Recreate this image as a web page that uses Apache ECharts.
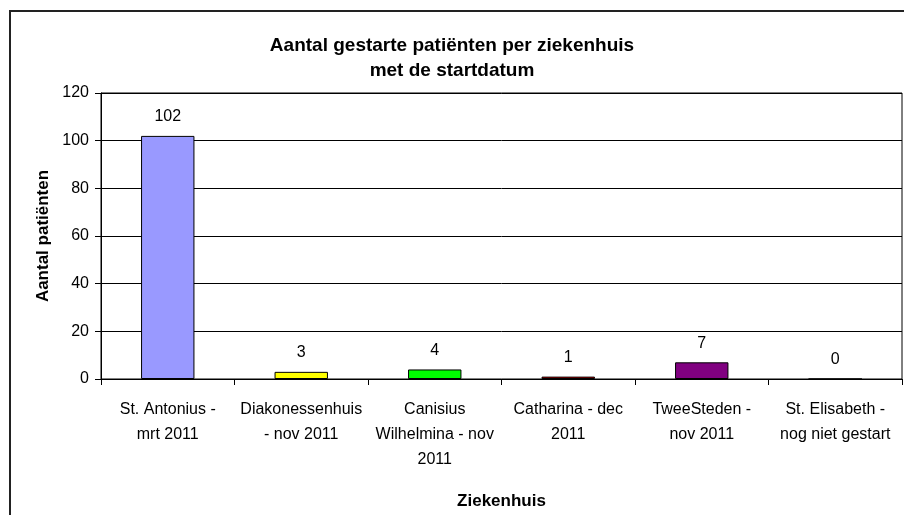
<!DOCTYPE html>
<html>
<head>
<meta charset="utf-8">
<script src="https://cdn.jsdelivr.net/npm/echarts@6/dist/echarts.min.js"></script>
<style>
  html, body { margin: 0; padding: 0; background: #fff; }
  #chart { width: 904px; height: 515px; }
</style>
</head>
<body>
<div id="chart"></div>
<script>
const categories = [
  'St. Antonius -\nmrt 2011',
  'Diakonessenhuis\n- nov 2011',
  'Canisius\nWilhelmina - nov\n2011',
  'Catharina - dec\n2011',
  'TweeSteden -\nnov 2011',
  'St. Elisabeth -\nnog niet gestart'
]
const patients = [102, 3, 4, 1, 7, 0]
const barColors = ['#9999ff', '#ffff00', '#00ff00', '#e00000', '#800080', '#ffffff']
const yTicks = { min: 0, max: 120, interval: 20 }

const font = '"Liberation Sans", Arial, sans-serif'

const chart = echarts.init(document.getElementById('chart'))
chart.setOption({
  backgroundColor: '#fff',
  animation: false,
  textStyle: { fontFamily: font, color: '#000' },
  title: {
    text: 'Aantal gestarte patiënten per ziekenhuis\nmet de startdatum',
    left: 'center',
    top: 28,
    textStyle: { fontSize: 19, fontWeight: 'bold', lineHeight: 25, color: '#000', fontFamily: font }
  },
  graphic: [{
    type: 'rect',
    shape: { x: 10, y: 11, width: 1000, height: 1000 },
    style: { fill: 'none', stroke: '#222', lineWidth: 2 },
    silent: true
  }],
  grid: {
    left: 101,
    right: 2,
    top: 93,
    bottom: 136,
    containLabel: false,
    outerBoundsMode: 'none',
    show: true,
    borderColor: '#000',
    borderWidth: 1,
    backgroundColor: '#fff'
  },
  xAxis: {
    type: 'category',
    data: categories,
    name: 'Ziekenhuis',
    nameLocation: 'middle',
    nameGap: 114,
    nameTextStyle: { fontSize: 17, fontWeight: 'bold', color: '#000', fontFamily: font },
    axisLine: { lineStyle: { color: '#000', width: 1 } },
    axisTick: { show: true, alignWithLabel: false, length: 6, lineStyle: { color: '#000' } },
    axisLabel: { interval: 0, fontSize: 16, lineHeight: 25, margin: 18, color: '#000', fontFamily: font }
  },
  yAxis: {
    type: 'value',
    min: yTicks.min,
    max: yTicks.max,
    interval: yTicks.interval,
    name: 'Aantal patiënten',
    nameLocation: 'middle',
    nameGap: 46,
    nameTextStyle: { fontSize: 17, fontWeight: 'bold', color: '#000', fontFamily: font },
    axisLine: { show: true, lineStyle: { color: '#000', width: 1 } },
    axisTick: { show: true, length: 6, lineStyle: { color: '#000' } },
    axisLabel: { fontSize: 16, margin: 12, color: '#000', fontFamily: font },
    splitLine: { show: true, lineStyle: { color: '#000', width: 1 } }
  },
  series: [{
    type: 'bar',
    data: patients,
    barWidth: '40%',
    itemStyle: {
      color: (p) => barColors[p.dataIndex],
      borderColor: '#000',
      borderWidth: 1
    },
    label: {
      show: true,
      position: 'top',
      distance: 11,
      fontSize: 16,
      color: '#000',
      fontFamily: font
    }
  }]
})
</script>
</body>
</html>
